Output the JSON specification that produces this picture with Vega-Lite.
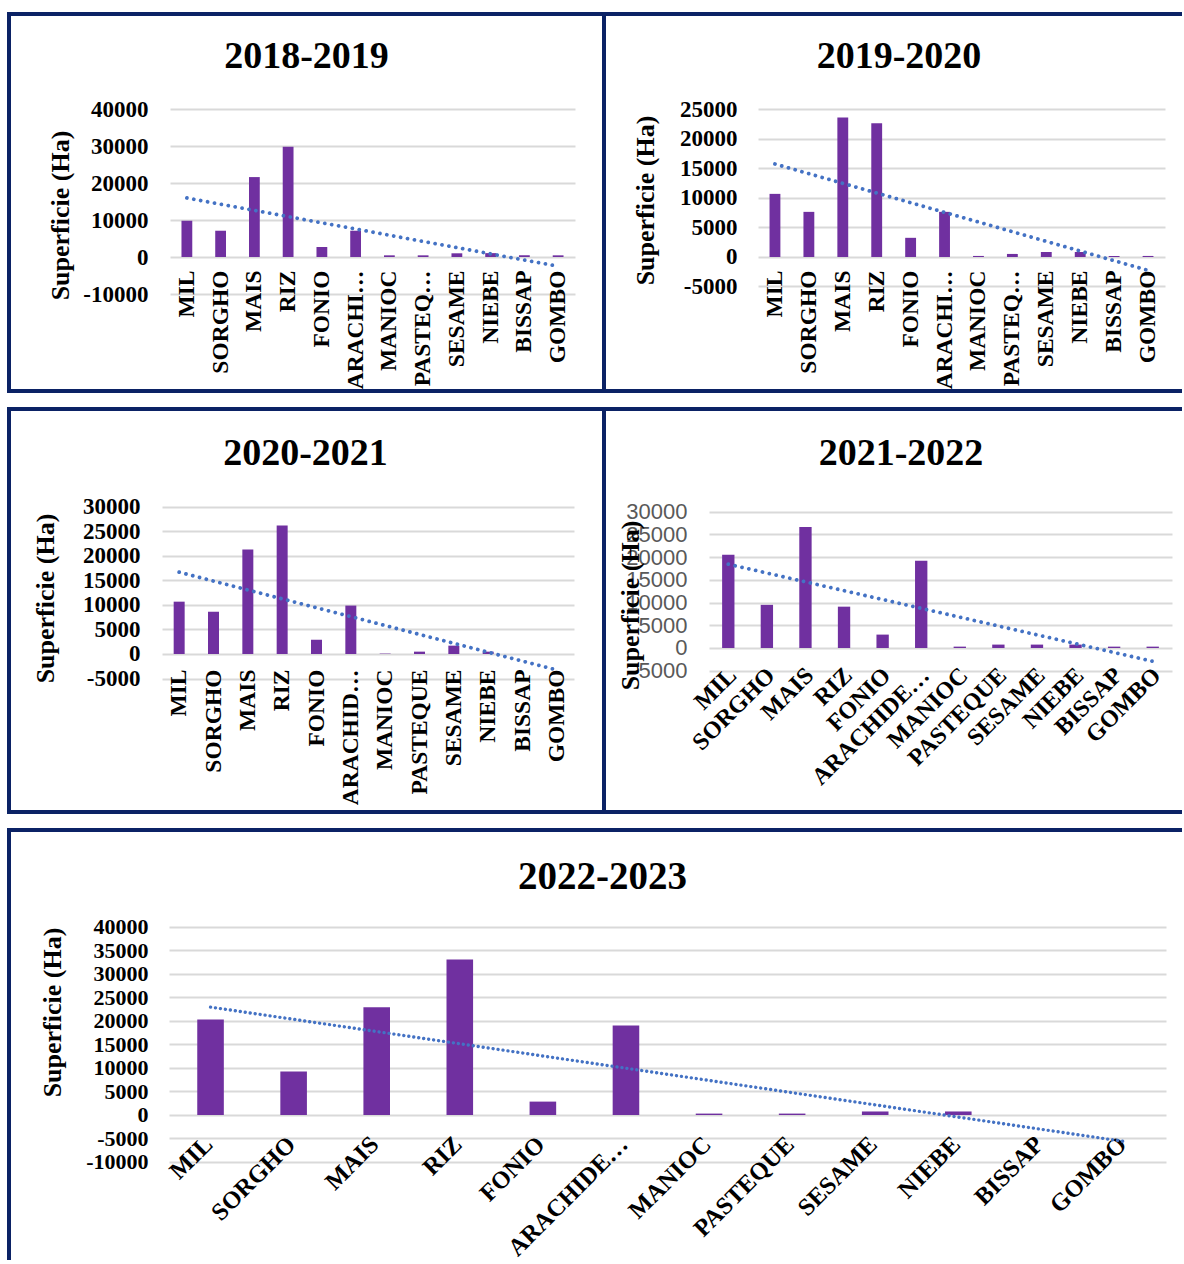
{
  "$schema": "https://vega.github.io/schema/vega-lite/v6.json",
  "usermeta": {"embedOptions": {"actions": false}},
  "background": "white",
  "padding": {"left": 7, "top": 12, "right": 0, "bottom": 0},
  "datasets": {
    "barres": [
      {"saison": "2018-2019", "culture": "MIL", "valeur": 9800},
      {"saison": "2018-2019", "culture": "SORGHO", "valeur": 7100},
      {"saison": "2018-2019", "culture": "MAIS", "valeur": 21600},
      {"saison": "2018-2019", "culture": "RIZ", "valeur": 29800},
      {"saison": "2018-2019", "culture": "FONIO", "valeur": 2700},
      {"saison": "2018-2019", "culture": "ARACHIDE…", "valeur": 7100},
      {"saison": "2018-2019", "culture": "MANIOC", "valeur": 450},
      {"saison": "2018-2019", "culture": "PASTEQUE", "valeur": 450},
      {"saison": "2018-2019", "culture": "SESAME", "valeur": 1000},
      {"saison": "2018-2019", "culture": "NIEBE", "valeur": 1050},
      {"saison": "2018-2019", "culture": "BISSAP", "valeur": 450},
      {"saison": "2018-2019", "culture": "GOMBO", "valeur": 450},
      {"saison": "2019-2020", "culture": "MIL", "valeur": 10700},
      {"saison": "2019-2020", "culture": "SORGHO", "valeur": 7650},
      {"saison": "2019-2020", "culture": "MAIS", "valeur": 23650},
      {"saison": "2019-2020", "culture": "RIZ", "valeur": 22650},
      {"saison": "2019-2020", "culture": "FONIO", "valeur": 3250},
      {"saison": "2019-2020", "culture": "ARACHIDE…", "valeur": 7650},
      {"saison": "2019-2020", "culture": "MANIOC", "valeur": 180},
      {"saison": "2019-2020", "culture": "PASTEQUE", "valeur": 520},
      {"saison": "2019-2020", "culture": "SESAME", "valeur": 850},
      {"saison": "2019-2020", "culture": "NIEBE", "valeur": 850},
      {"saison": "2019-2020", "culture": "BISSAP", "valeur": 180},
      {"saison": "2019-2020", "culture": "GOMBO", "valeur": 180},
      {"saison": "2020-2021", "culture": "MIL", "valeur": 10650},
      {"saison": "2020-2021", "culture": "SORGHO", "valeur": 8600},
      {"saison": "2020-2021", "culture": "MAIS", "valeur": 21250},
      {"saison": "2020-2021", "culture": "RIZ", "valeur": 26150},
      {"saison": "2020-2021", "culture": "FONIO", "valeur": 2900},
      {"saison": "2020-2021", "culture": "ARACHIDE…", "valeur": 9850},
      {"saison": "2020-2021", "culture": "MANIOC", "valeur": 80},
      {"saison": "2020-2021", "culture": "PASTEQUE", "valeur": 480},
      {"saison": "2020-2021", "culture": "SESAME", "valeur": 1700},
      {"saison": "2020-2021", "culture": "NIEBE", "valeur": 480},
      {"saison": "2020-2021", "culture": "BISSAP", "valeur": 0},
      {"saison": "2020-2021", "culture": "GOMBO", "valeur": 0},
      {"saison": "2021-2022", "culture": "MIL", "valeur": 20500},
      {"saison": "2021-2022", "culture": "SORGHO", "valeur": 9500},
      {"saison": "2021-2022", "culture": "MAIS", "valeur": 26650},
      {"saison": "2021-2022", "culture": "RIZ", "valeur": 9100},
      {"saison": "2021-2022", "culture": "FONIO", "valeur": 2950},
      {"saison": "2021-2022", "culture": "ARACHIDE…", "valeur": 19200},
      {"saison": "2021-2022", "culture": "MANIOC", "valeur": 300},
      {"saison": "2021-2022", "culture": "PASTEQUE", "valeur": 750},
      {"saison": "2021-2022", "culture": "SESAME", "valeur": 750},
      {"saison": "2021-2022", "culture": "NIEBE", "valeur": 750},
      {"saison": "2021-2022", "culture": "BISSAP", "valeur": 300},
      {"saison": "2021-2022", "culture": "GOMBO", "valeur": 300},
      {"saison": "2022-2023", "culture": "MIL", "valeur": 20300},
      {"saison": "2022-2023", "culture": "SORGHO", "valeur": 9250},
      {"saison": "2022-2023", "culture": "MAIS", "valeur": 22900},
      {"saison": "2022-2023", "culture": "RIZ", "valeur": 33100},
      {"saison": "2022-2023", "culture": "FONIO", "valeur": 2850},
      {"saison": "2022-2023", "culture": "ARACHIDE…", "valeur": 19050},
      {"saison": "2022-2023", "culture": "MANIOC", "valeur": 300},
      {"saison": "2022-2023", "culture": "PASTEQUE", "valeur": 300},
      {"saison": "2022-2023", "culture": "SESAME", "valeur": 750},
      {"saison": "2022-2023", "culture": "NIEBE", "valeur": 750},
      {"saison": "2022-2023", "culture": "BISSAP", "valeur": 0},
      {"saison": "2022-2023", "culture": "GOMBO", "valeur": 0}
    ],
    "tendance": [
      {"saison": "2018-2019", "culture": "MIL", "valeur": 15950},
      {"saison": "2018-2019", "culture": "GOMBO", "valeur": -2500},
      {"saison": "2019-2020", "culture": "MIL", "valeur": 15760},
      {"saison": "2019-2020", "culture": "GOMBO", "valeur": -2270},
      {"saison": "2020-2021", "culture": "MIL", "valeur": 16650},
      {"saison": "2020-2021", "culture": "GOMBO", "valeur": -3260},
      {"saison": "2021-2022", "culture": "MIL", "valeur": 18450},
      {"saison": "2021-2022", "culture": "GOMBO", "valeur": -2930},
      {"saison": "2022-2023", "culture": "MIL", "valeur": 22950},
      {"saison": "2022-2023", "culture": "GOMBO", "valeur": -5650}
    ]
  },
  "config": {
    "axis": {"labelFont": "Liberation Serif", "labelFontWeight": "bold", "labelColor": "#000000", "titleFont": "Liberation Serif", "titleFontWeight": "bold", "titleColor": "#000000", "labelOverlap": false, "labelFlush": false, "gridColor": "#D9D9D9", "gridWidth": 2},
    "axisY": {"labelExpr": "replace(datum.label, '−', '-')"},
    "title": {"font": "Liberation Serif", "fontWeight": "bold", "fontSize": 38, "color": "#000000", "anchor": "middle", "baseline": "alphabetic"}
  },
  "vconcat": [
    {
      "hconcat": [
        {
          "width": 595, "height": 377,
          "view": {"stroke": "#0B2265", "strokeWidth": 4},
          "title": {"text": "2018-2019", "offset": -62, "dx": 0},
          "encoding": {
            "x": {"field": "culture", "type": "nominal", "scale": {"domain": ["MIL","SORGHO","MAIS","RIZ","FONIO","ARACHIDE…","MANIOC","PASTEQUE","SESAME","NIEBE","BISSAP","GOMBO"], "range": [161, 566], "paddingInner": 0, "paddingOuter": 0},
                  "axis": {"orient": "bottom", "offset": -134, "grid": false, "domain": false, "ticks": false, "labelAngle": 270, "labelAlign": "right", "labelBaseline": "middle", "labelPadding": 13, "labelFontSize": 23.5, "labelLimit": 122, "title": null}},
            "y": {"field": "valeur", "type": "quantitative", "scale": {"domain": [-36216, 65676], "nice": false, "zero": false},
                  "axis": {"values": [-10000, 0, 10000, 20000, 30000, 40000], "format": "d", "grid": true, "domain": false, "ticks": false, "offset": -139, "labelPadding": 0, "labelFontSize": 23, "title": "Superficie (Ha)", "titleFontSize": 26, "titleX": -88, "titleY": 201, "titleAngle": 270, "titleAlign": "center", "titleBaseline": "middle"}}
          },
          "layer": [
            {"data": {"name": "barres"}, "transform": [{"filter": {"field": "saison", "equal": "2018-2019"}}],
             "mark": {"type": "bar", "color": "#7030A0", "width": {"band": 0.32}},
             "encoding": {"y2": {"datum": 0}}},
            {"data": {"name": "tendance"}, "transform": [{"filter": {"field": "saison", "equal": "2018-2019"}}],
             "mark": {"type": "line", "color": "#4472C4", "strokeWidth": 3.8, "strokeDash": [0.01, 7], "strokeCap": "round"}}
          ]
        },
        {
          "width": 578, "height": 377,
          "view": {"stroke": "#0B2265", "strokeWidth": 4, "strokeDash": [578, 377, 1200]},
          "title": {"text": "2019-2020", "offset": -62, "dx": 6},
          "encoding": {
            "x": {"field": "culture", "type": "nominal", "scale": {"domain": ["MIL","SORGHO","MAIS","RIZ","FONIO","ARACHIDE…","MANIOC","PASTEQUE","SESAME","NIEBE","BISSAP","GOMBO"], "range": [154, 561], "paddingInner": 0, "paddingOuter": 0},
                  "axis": {"orient": "bottom", "offset": -134, "grid": false, "domain": false, "ticks": false, "labelAngle": 270, "labelAlign": "right", "labelBaseline": "middle", "labelPadding": 13, "labelFontSize": 23.5, "labelLimit": 122, "title": null}},
            "y": {"field": "valeur", "type": "quantitative", "scale": {"domain": [-22712, 41186], "nice": false, "zero": false},
                  "axis": {"values": [-5000, 0, 5000, 10000, 15000, 20000, 25000], "format": "d", "grid": true, "domain": false, "ticks": false, "offset": -133, "labelPadding": 0, "labelFontSize": 23, "title": "Superficie (Ha)", "titleFontSize": 26, "titleX": -92, "titleY": 186, "titleAngle": 270, "titleAlign": "center", "titleBaseline": "middle"}}
          },
          "layer": [
            {"data": {"name": "barres"}, "transform": [{"filter": {"field": "saison", "equal": "2019-2020"}}],
             "mark": {"type": "bar", "color": "#7030A0", "width": {"band": 0.32}},
             "encoding": {"y2": {"datum": 0}}},
            {"data": {"name": "tendance"}, "transform": [{"filter": {"field": "saison", "equal": "2019-2020"}}],
             "mark": {"type": "line", "color": "#4472C4", "strokeWidth": 3.8, "strokeDash": [0.01, 7], "strokeCap": "round"}}
          ]
        }
      ],
      "spacing": 0,
      "bounds": "flush"
    },
    {
      "hconcat": [
        {
          "width": 595, "height": 403,
          "view": {"stroke": "#0B2265", "strokeWidth": 4},
          "title": {"text": "2020-2021", "offset": -64, "dx": -1},
          "encoding": {
            "x": {"field": "culture", "type": "nominal", "scale": {"domain": ["MIL","SORGHO","MAIS","RIZ","FONIO","ARACHIDE…","MANIOC","PASTEQUE","SESAME","NIEBE","BISSAP","GOMBO"], "range": [153, 565], "paddingInner": 0, "paddingOuter": 0},
                  "axis": {"orient": "bottom", "offset": -158, "grid": false, "domain": false, "ticks": false, "labelAngle": 270, "labelAlign": "right", "labelBaseline": "middle", "labelPadding": 15, "labelFontSize": 23.5, "labelLimit": 143, "title": null}},
            "y": {"field": "valeur", "type": "quantitative", "scale": {"domain": [-32153, 49857], "nice": false, "zero": false},
                  "axis": {"values": [-5000, 0, 5000, 10000, 15000, 20000, 25000, 30000], "format": "d", "grid": true, "domain": false, "ticks": false, "offset": -131, "labelPadding": 0, "labelFontSize": 23, "title": "Superficie (Ha)", "titleFontSize": 26, "titleX": -95, "titleY": 189, "titleAngle": 270, "titleAlign": "center", "titleBaseline": "middle"}}
          },
          "layer": [
            {"data": {"name": "barres"}, "transform": [{"filter": {"field": "saison", "equal": "2020-2021"}}],
             "mark": {"type": "bar", "color": "#7030A0", "width": {"band": 0.32}},
             "encoding": {"y2": {"datum": 0}}},
            {"data": {"name": "tendance"}, "transform": [{"filter": {"field": "saison", "equal": "2020-2021"}}],
             "mark": {"type": "line", "color": "#4472C4", "strokeWidth": 3.8, "strokeDash": [0.01, 7], "strokeCap": "round"}}
          ]
        },
        {
          "width": 578, "height": 403,
          "view": {"stroke": "#0B2265", "strokeWidth": 4, "strokeDash": [578, 403, 1200]},
          "title": {"text": "2021-2022", "offset": -64, "dx": 8},
          "encoding": {
            "x": {"field": "culture", "type": "nominal", "scale": {"domain": ["MIL","SORGHO","MAIS","RIZ","FONIO","ARACHIDE…","MANIOC","PASTEQUE","SESAME","NIEBE","BISSAP","GOMBO"], "range": [105, 568], "paddingInner": 0, "paddingOuter": 0},
                  "axis": {"orient": "bottom", "offset": -164, "grid": false, "domain": false, "ticks": false, "labelAngle": -45, "labelAlign": "right", "labelBaseline": "top", "labelPadding": 15, "labelOffset": -4, "labelFontSize": 24, "labelLimit": 250, "title": null}},
            "y": {"field": "valeur", "type": "quantitative", "scale": {"domain": [-36100, 52609], "nice": false, "zero": false},
                  "axis": {"values": [-5000, 0, 5000, 10000, 15000, 20000, 25000, 30000], "format": "d", "grid": true, "domain": false, "ticks": false, "offset": -83, "labelPadding": 0, "labelFont": "Liberation Sans", "labelFontWeight": "normal", "labelColor": "#595959", "labelFontSize": 22, "title": "Superficie (Ha)", "titleFontSize": 26, "titleX": -57, "titleY": 196, "titleAngle": 270, "titleAlign": "center", "titleBaseline": "middle"}}
          },
          "layer": [
            {"data": {"name": "barres"}, "transform": [{"filter": {"field": "saison", "equal": "2021-2022"}}],
             "mark": {"type": "bar", "color": "#7030A0", "width": {"band": 0.32}},
             "encoding": {"y2": {"datum": 0}}},
            {"data": {"name": "tendance"}, "transform": [{"filter": {"field": "saison", "equal": "2021-2022"}}],
             "mark": {"type": "line", "color": "#4472C4", "strokeWidth": 3.8, "strokeDash": [0.01, 7], "strokeCap": "round"}}
          ]
        }
      ],
      "spacing": 0,
      "bounds": "flush"
    },
    {
      "width": 1173, "height": 430,
      "view": {"stroke": "#0B2265", "strokeWidth": 4, "strokeDash": [1173, 1603, 600]},
      "title": {"text": "2022-2023", "offset": -67, "dx": 7, "fontSize": 39},
      "encoding": {
        "x": {"field": "culture", "type": "nominal", "scale": {"domain": ["MIL","SORGHO","MAIS","RIZ","FONIO","ARACHIDE…","MANIOC","PASTEQUE","SESAME","NIEBE","BISSAP","GOMBO"], "range": [160, 1157], "paddingInner": 0, "paddingOuter": 0},
              "axis": {"orient": "bottom", "offset": -145, "grid": false, "domain": false, "ticks": false, "labelAngle": -45, "labelAlign": "right", "labelBaseline": "top", "labelPadding": 17, "labelOffset": -10, "labelFontSize": 24.5, "labelLimit": 250, "title": null}},
        "y": {"field": "valeur", "type": "quantitative", "scale": {"domain": [-30851, 60638], "nice": false, "zero": false},
              "axis": {"values": [-10000, -5000, 0, 5000, 10000, 15000, 20000, 25000, 30000, 35000, 40000], "format": "d", "grid": true, "domain": false, "ticks": false, "offset": -139, "labelPadding": 0, "labelFontSize": 22, "title": "Superficie (Ha)", "titleFontSize": 26, "titleX": -96, "titleY": 182, "titleAngle": 270, "titleAlign": "center", "titleBaseline": "middle"}}
      },
      "layer": [
        {"data": {"name": "barres"}, "transform": [{"filter": {"field": "saison", "equal": "2022-2023"}}],
         "mark": {"type": "bar", "color": "#7030A0", "width": {"band": 0.32}},
         "encoding": {"y2": {"datum": 0}}},
        {"data": {"name": "tendance"}, "transform": [{"filter": {"field": "saison", "equal": "2022-2023"}}],
         "mark": {"type": "line", "color": "#4472C4", "strokeWidth": 3.4, "strokeDash": [0.01, 5], "strokeCap": "round"}}
      ]
    }
  ],
  "spacing": 14,
  "bounds": "full"
}
